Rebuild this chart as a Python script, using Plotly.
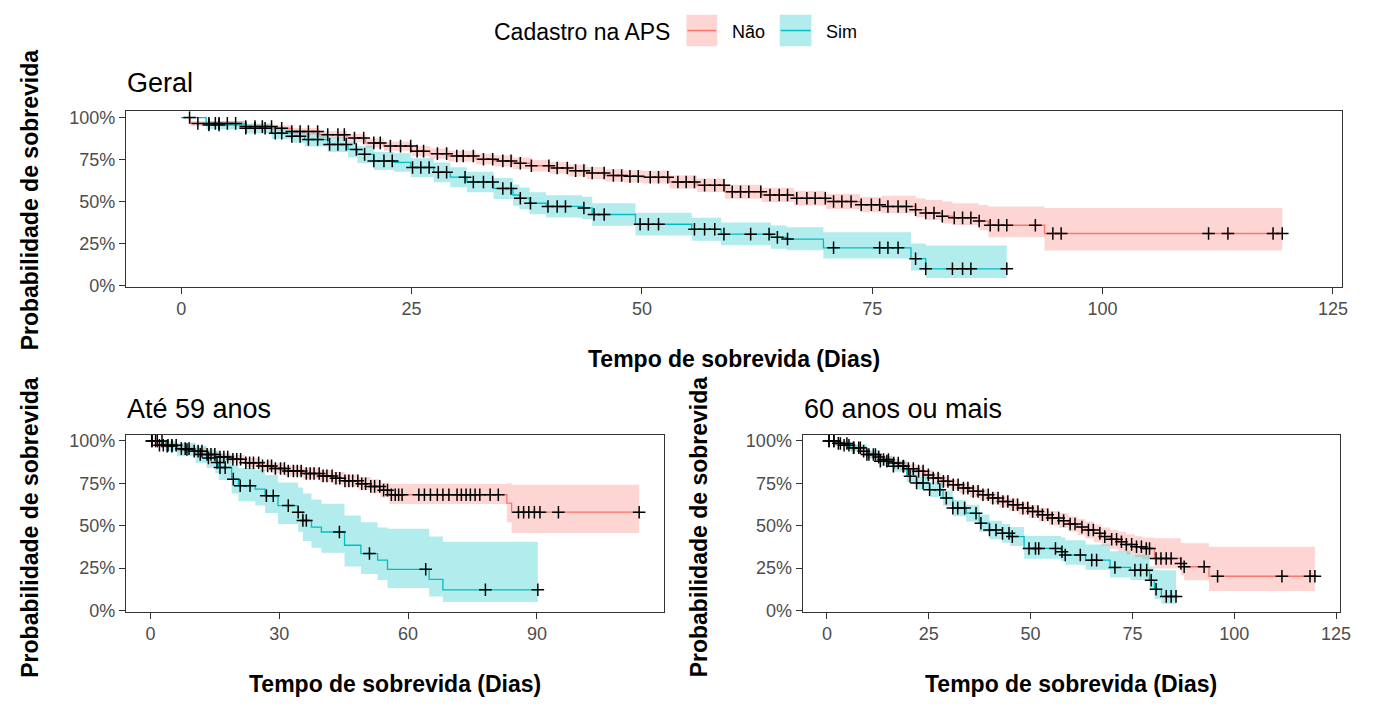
import plotly.graph_objects as go
import bisect

W, H = 1373, 708
RED, TEAL = "#F8766D", "#00BFC4"
RED_FILL, TEAL_FILL = "rgba(248,118,109,0.30)", "rgba(0,191,196,0.30)"
FONT = "Liberation Sans, Arial, sans-serif"

# ---------------- Geral ----------------
geral_nao_t = [0, 1, 7, 10, 12, 15, 18, 20, 22, 25, 27, 29, 32, 34, 36, 38, 40, 42, 44, 46, 48, 50, 53, 56, 59, 63,
               66.5, 70, 73.7, 76, 79.7, 80.8, 82.6, 83.7, 86.6, 87.6, 93.7]
geral_nao_s = [1, .965, .946, .936, .917, .898, .878, .849, .83, .80, .785, .771, .752, .742, .728, .713, .70, .684,
               .67, .655, .65, .645, .616, .597, .558, .539, .52, .50, .481, .471, .452, .432, .413, .403, .384, .359, .31]
geral_nao_lo = [1, .95, .93, .918, .897, .876, .853, .822, .802, .77, .754, .739, .72, .709, .694, .679, .665, .649,
                .634, .619, .613, .607, .577, .557, .517, .497, .477, .456, .436, .43, .405, .39, .37, .36, .33, .287, .209]
geral_nao_hi = [1, .98, .962, .954, .937, .92, .903, .876, .858, .83, .816, .803, .785, .775, .762, .748, .735, .72,
                .706, .692, .687, .683, .655, .637, .60, .582, .564, .545, .527, .535, .52, .51, .50, .49, .48, .471, .462]
geral_nao_cens = [0.9, 1.8, 3.0, 3.7, 4.1, 5.0, 5.9, 7.0, 8.0, 8.8, 9.8, 10.9, 12.0, 12.9, 13.8, 14.8, 15.9, 17.0,
                  17.7, 18.8, 19.8, 20.9, 21.6, 22.7, 23.8, 24.9, 25.6, 26.3, 27.8, 28.8, 29.9, 30.6, 31.7, 32.8,
                  33.8, 34.9, 35.8, 36.8, 38.0, 39.9, 40.8, 41.9, 42.8, 43.7, 44.6, 45.9, 46.9, 47.8, 48.7, 49.6,
                  50.9, 51.8, 52.8, 53.9, 54.8, 55.7, 56.8, 57.9, 58.9, 59.8, 60.7, 61.6, 62.9, 63.9, 64.9, 65.8,
                  66.8, 67.9, 68.8, 69.9, 70.8, 71.7, 72.7, 73.8, 74.9, 75.8, 76.7, 77.8, 78.7, 79.7, 80.8, 81.7,
                  82.6, 83.9, 84.8, 85.7, 86.6, 87.8, 88.7, 89.6, 92.7, 94.6, 95.5, 111.5, 113.6, 118.5, 119.5]

geral_sim_t = [0, 2.7, 7, 9.8, 12, 13.4, 15.9, 18.1, 19.1, 20.9, 23.1, 24.9, 27.4, 29.2, 31, 33.9, 36, 36.7, 37.8,
               39.6, 43.5, 44.6, 49.3, 55.4, 58.6, 64, 65.7, 69.7, 79.2, 80.8]
geral_sim_s = [1, .956, .936, .907, .888, .869, .84, .81, .781, .742, .733, .703, .674, .645, .616, .578, .539, .52,
               .49, .471, .462, .423, .365, .335, .306, .287, .277, .225, .16, .10]
geral_sim_lo = [1, .93, .905, .872, .85, .828, .795, .762, .73, .688, .678, .646, .615, .585, .555, .515, .475, .455,
                .425, .405, .396, .356, .298, .267, .24, .22, .21, .161, .09, .045]
geral_sim_hi = [1, .98, .965, .94, .925, .908, .882, .855, .83, .795, .787, .758, .732, .704, .677, .64, .602, .584,
                .555, .537, .528, .49, .433, .403, .375, .357, .347, .318, .25, .238]
geral_sim_cens = [3.0, 4.1, 7.0, 8.0, 9.1, 10.2, 10.9, 12.0, 12.9, 13.8, 14.8, 16.1, 17.0, 17.9, 19.0, 19.9, 20.9,
                  22.0, 22.9, 25.1, 26.0, 26.9, 27.9, 28.8, 30.8, 31.7, 32.8, 33.8, 34.9, 35.8, 36.8, 37.9, 39.8,
                  40.8, 41.7, 43.7, 44.8, 45.9, 49.8, 50.7, 51.8, 55.7, 56.8, 57.9, 58.9, 61.8, 63.8, 64.7, 65.8,
                  70.8, 75.8, 76.7, 77.8, 79.7, 80.8, 83.7, 84.8, 85.7, 89.6]

# ---------------- Até 59 anos ----------------
jovem_nao_t = [0, 1.5, 6.2, 10, 13.1, 16, 18.6, 22, 25.5, 28.5, 31.3, 35.5, 39.4, 42.5, 45.2, 48.5, 51.3, 53.5,
               55.6, 83.0, 84.1]
jovem_nao_s = [1, .975, .955, .94, .921, .905, .892, .872, .853, .838, .823, .808, .794, .78, .765, .748, .732, .71,
               .683, .634, .58]
jovem_nao_lo = [1, .96, .937, .92, .90, .882, .868, .846, .825, .808, .792, .775, .76, .744, .728, .709, .691, .667,
                .629, .52, .457]
jovem_nao_hi = [1, .99, .973, .96, .943, .929, .917, .899, .882, .869, .855, .842, .829, .817, .803, .788, .774,
                .754, .746, .75, .742]
jovem_nao_cens = [0.3, 1.2, 2.1, 3.0, 4.1, 5.0, 6.0, 7.2, 8.1, 9.0, 10.2, 11.1, 12.0, 13.2, 14.1, 15.0, 16.2, 17.1,
                  18.0, 19.2, 20.1, 21.0, 22.2, 23.1, 24.0, 25.2, 26.1, 27.3, 28.2, 29.1, 30.3, 31.2, 32.1, 33.3,
                  34.2, 35.1, 36.3, 37.2, 38.1, 39.3, 40.2, 41.1, 42.3, 43.2, 44.1, 45.3, 46.2, 47.1, 48.3, 49.2,
                  50.1, 51.3, 52.2, 53.4, 54.3, 55.2, 56.1, 57.0, 57.8, 58.6, 62.5, 63.8, 65.2, 66.8, 68.1, 69.5,
                  71.4, 72.4, 73.5, 74.5, 75.6, 76.7, 79.1, 81.0, 85.7, 86.9, 88.1, 89.4, 90.7, 95.0, 113.8]

jovem_sim_t = [0, 3.5, 6.2, 10.5, 13.1, 15.1, 15.9, 18.9, 20.5, 24.4, 26.7, 29.7, 34.4, 35.5, 37.5, 39.8, 45.2, 49,
               52.9, 55.2, 64.9, 68.1]
jovem_sim_s = [1, .97, .95, .921, .90, .873, .843, .775, .736, .716, .677, .619, .58, .531, .492, .463, .385, .336,
               .297, .243, .184, .122]
jovem_sim_lo = [1, .94, .91, .87, .84, .81, .77, .69, .645, .62, .575, .51, .465, .41, .37, .34, .26, .215, .18,
                .132, .083, .05]
jovem_sim_hi = [1, 1.0, .99, .97, .955, .94, .92, .86, .84, .83, .80, .755, .725, .69, .655, .63, .56, .52, .49,
                .482, .437, .405]
jovem_sim_cens = [0.4, 1.6, 2.7, 3.9, 5.0, 8.5, 11.6, 13.5, 15.5, 16.2, 17.4, 19.3, 20.9, 23.2, 27.0, 28.6, 32.1,
                  34.4, 35.5, 36.3, 44.0, 51.0, 64.1, 78.0, 90.2]

# ---------------- 60 anos ou mais ----------------
idoso_nao_t = [0, 2, 4, 5.8, 8, 9.8, 12, 13.9, 16, 17.9, 20, 22, 24, 26.1, 28, 30.1, 32.5, 35, 37.5, 39.9, 42.3,
               44.7, 47, 49.6, 52, 54.5, 57, 59.3, 61.5, 63.4, 65.5, 67.4, 69.5, 71.5, 73.5, 75.6, 77.5, 80.4, 86.9,
               87.7, 93.8]
idoso_nao_s = [1, .986, .975, .96, .94, .92, .905, .891, .87, .852, .837, .822, .80, .782, .762, .742, .722, .703,
               .683, .663, .643, .624, .604, .584, .565, .545, .53, .51, .492, .475, .455, .436, .42, .406, .39, .376,
               .366, .307, .277, .258, .202]
idoso_nao_lo = [1, .976, .963, .945, .923, .90, .884, .869, .846, .827, .811, .795, .772, .753, .732, .711, .69, .67,
                .649, .628, .607, .587, .566, .545, .525, .503, .486, .464, .444, .425, .403, .382, .364, .348, .33,
                .314, .302, .248, .21, .178, .115]
idoso_nao_hi = [1, .996, .987, .975, .957, .94, .926, .913, .894, .877, .863, .849, .828, .811, .792, .773, .754,
                .736, .717, .698, .679, .661, .642, .623, .605, .587, .574, .556, .54, .525, .507, .49, .476, .464,
                .45, .438, .43, .426, .40, .396, .376]
idoso_nao_cens = [0.5, 1.7, 2.8, 4.2, 5.4, 6.5, 7.8, 9.0, 10.3, 11.4, 12.7, 13.9, 15.1, 16.4, 17.5, 18.8, 20.0,
                  21.2, 22.5, 23.6, 24.9, 26.1, 27.3, 28.6, 29.7, 31.0, 32.2, 33.5, 34.6, 35.9, 37.1, 38.3, 39.6,
                  40.7, 42.0, 43.2, 44.4, 45.7, 46.8, 48.1, 49.3, 50.5, 51.8, 52.9, 54.2, 55.3, 56.9, 58.1, 59.7,
                  60.9, 62.6, 64.2, 65.4, 67.0, 68.2, 69.9, 71.1, 72.3, 73.5, 74.8, 76.0, 77.2, 78.4, 79.2, 80.8,
                  82.0, 83.3, 84.5, 86.9, 87.7, 92.6, 95.9, 111.7, 118.6, 119.8]

idoso_sim_t = [0, 2, 5.8, 9.8, 13.1, 16.3, 19.6, 22, 25.2, 28.5, 30.9, 34.2, 37.4, 39.9, 43, 45, 48.4, 57.5, 58.5,
               63.5, 69.5, 74.5, 79.2, 80.4, 82.1]
idoso_sim_s = [1, .985, .96, .92, .881, .851, .792, .752, .713, .663, .604, .574, .515, .475, .455, .436, .366, .347,
               .327, .297, .254, .238, .178, .125, .083]
idoso_sim_lo = [1, .97, .94, .895, .852, .818, .755, .712, .67, .618, .556, .524, .463, .421, .40, .38, .305, .29,
                .27, .24, .195, .18, .12, .07, .04]
idoso_sim_hi = [1, 1.0, .98, .945, .91, .884, .83, .792, .756, .708, .652, .624, .567, .529, .51, .492, .44, .43,
                .415, .39, .35, .33, .26, .238, .238]
idoso_sim_cens = [0.5, 1.7, 3.3, 4.9, 6.6, 8.2, 9.8, 11.9, 13.1, 14.7, 16.3, 18.7, 20.4, 22.0, 23.6, 25.2, 27.7,
                  29.3, 30.9, 32.1, 33.8, 36.6, 37.8, 39.9, 41.5, 43.1, 44.7, 45.5, 49.6, 51.2, 52.0, 56.1, 57.7,
                  58.5, 62.2, 65.0, 66.2, 70.7, 75.6, 77.0, 78.5, 79.6, 80.8, 83.3, 84.5, 85.7]

# ---------------- panels ----------------
panels = [
    dict(x="x", y="y", groups=[(geral_nao_t, geral_nao_s, geral_nao_lo, geral_nao_hi, geral_nao_cens, RED, RED_FILL),
                               (geral_sim_t, geral_sim_s, geral_sim_lo, geral_sim_hi, geral_sim_cens, TEAL, TEAL_FILL)]),
    dict(x="x2", y="y2", groups=[(jovem_nao_t, jovem_nao_s, jovem_nao_lo, jovem_nao_hi, jovem_nao_cens, RED, RED_FILL),
                                 (jovem_sim_t, jovem_sim_s, jovem_sim_lo, jovem_sim_hi, jovem_sim_cens, TEAL, TEAL_FILL)]),
    dict(x="x3", y="y3", groups=[(idoso_nao_t, idoso_nao_s, idoso_nao_lo, idoso_nao_hi, idoso_nao_cens, RED, RED_FILL),
                                 (idoso_sim_t, idoso_sim_s, idoso_sim_lo, idoso_sim_hi, idoso_sim_cens, TEAL, TEAL_FILL)]),
]


def ext(t, vals, cens):
    end = max(max(cens), t[-1])
    return t + [end], vals + [vals[-1]]


def step_at(t, s, x):
    i = bisect.bisect_right(t, x) - 1
    return s[max(i, 0)]


fig = go.Figure()
for p in panels:
    for (t, s, lo, hi, cens, col, fcol) in p["groups"]:
        tx, lox = ext(t, lo, cens)
        _, hix = ext(t, hi, cens)
        fig.add_trace(go.Scatter(x=tx, y=lox, mode="lines", line=dict(width=0, shape="hv"),
                                 xaxis=p["x"], yaxis=p["y"], showlegend=False, hoverinfo="skip"))
        fig.add_trace(go.Scatter(x=tx, y=hix, mode="lines", line=dict(width=0, shape="hv"),
                                 fill="tonexty", fillcolor=fcol,
                                 xaxis=p["x"], yaxis=p["y"], showlegend=False, hoverinfo="skip"))
    for (t, s, lo, hi, cens, col, fcol) in p["groups"]:
        tx, sx = ext(t, s, cens)
        fig.add_trace(go.Scatter(x=tx, y=sx, mode="lines", line=dict(width=1.3, color=col, shape="hv"),
                                 xaxis=p["x"], yaxis=p["y"], showlegend=False))
    for (t, s, lo, hi, cens, col, fcol) in p["groups"]:
        fig.add_trace(go.Scatter(x=cens, y=[step_at(t, s, c) for c in cens], mode="markers",
                                 marker=dict(symbol="cross-thin", size=9, line=dict(width=1.5, color="black")),
                                 xaxis=p["x"], yaxis=p["y"], showlegend=False))


def px_x(v):
    return v / W


def px_y(v):
    return 1 - v / H


axis_common = dict(showline=True, mirror=True, linecolor="#333333", linewidth=1, ticks="outside", ticklen=6,
                   tickcolor="#333333", tickwidth=1, showgrid=False, zeroline=False,
                   tickfont=dict(family=FONT, size=18, color="#4D4D4D"))
yr = [-0.006, 1.038]
ytick = dict(tickvals=[0, 0.25, 0.5, 0.75, 1.0], ticktext=["0%", "25%", "50%", "75%", "100%"])

fig.update_layout(
    autosize=True, margin=dict(l=0, r=0, t=0, b=0),
    paper_bgcolor="white", plot_bgcolor="white", showlegend=False,
    xaxis=dict(domain=[px_x(127), px_x(1353)], range=[-6, 126], tickvals=[0, 25, 50, 75, 100, 125],
               anchor="y", **axis_common),
    yaxis=dict(domain=[px_y(288.5), px_y(110)], range=yr, anchor="x", **ytick, **axis_common),
    xaxis2=dict(domain=[px_x(127), px_x(669)], range=[-5.69, 119.5], tickvals=[0, 30, 60, 90],
                anchor="y2", **axis_common),
    yaxis2=dict(domain=[px_y(619), px_y(439)], range=yr, anchor="x2", **ytick, **axis_common),
    xaxis3=dict(domain=[px_x(809), px_x(1351)], range=[-6, 126], tickvals=[0, 25, 50, 75, 100, 125],
                anchor="y3", **axis_common),
    yaxis3=dict(domain=[px_y(619), px_y(439)], range=yr, anchor="x3", **ytick, **axis_common),
)

ann = []
def text(x, y, s, size, color="black", bold=False, angle=0, xanchor="center"):
    ann.append(dict(x=px_x(x), y=px_y(y), xref="paper", yref="paper", text=("<b>%s</b>" % s) if bold else s,
                    showarrow=False, textangle=angle, xanchor=xanchor, yanchor="middle",
                    font=dict(family=FONT, size=size, color=color)))

XT, YT = "Tempo de sobrevida (Dias)", "Probabilidade de sobrevida"
text(740, 362, XT, 23, bold=True)
text(30, 200, YT, 23, bold=True, angle=-90)
text(398, 693, XT, 23, bold=True)
text(30, 533, YT, 23, bold=True, angle=-90)
text(1080, 693, XT, 23, bold=True)
text(705, 533, YT, 23, bold=True, angle=-90)
text(126, 81, "Geral", 27, xanchor="left")
text(126, 413, "Até 59 anos", 27, xanchor="left")
text(808, 413, "60 anos ou mais", 27, xanchor="left")
text(496, 30, "Cadastro na APS", 23, xanchor="left")
text(736, 30, "Não", 18, xanchor="left")
text(831, 30, "Sim", 18, xanchor="left")
fig.update_layout(annotations=ann)

shapes = []
for (x0, x1, fc, lc) in [(692, 723, RED_FILL, RED), (786, 818, TEAL_FILL, TEAL)]:
    shapes.append(dict(type="rect", xref="paper", yref="paper", x0=px_x(x0), x1=px_x(x1), y0=px_y(44), y1=px_y(12),
                       fillcolor=fc, line=dict(width=0), layer="above"))
    shapes.append(dict(type="line", xref="paper", yref="paper", x0=px_x(x0 + 1), x1=px_x(x1 - 1), y0=px_y(28),
                       y1=px_y(28), line=dict(color=lc, width=1.5), layer="above"))
fig.update_layout(shapes=shapes)

# the div is sized to the window and pulled over the page's default 8px body margin,
# so the page is exactly 1373x708 from the moment it loads
fig.write_html("out.html", default_width="%dpx" % W, default_height="%dpx; margin:-8px" % H,
               config={"displayModeBar": False})
